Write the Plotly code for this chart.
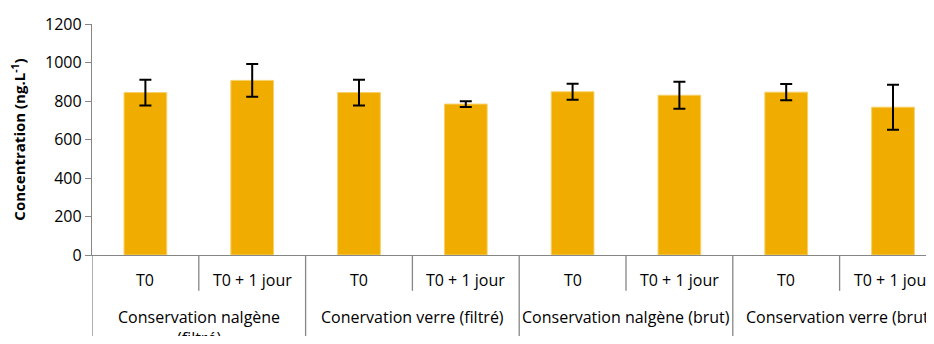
import plotly.graph_objects as go

groups = ["Conservation nalgène<br>(filtré)", "Conervation verre (filtré)",
          "Conservation nalgène (brut)", "Conservation verre (brut)"]
sub_labels = ["T0", "T0 + 1 jour"]
values = [844, 907, 844, 784, 848, 830, 846, 768]
errors = [67, 85, 67, 15, 42, 70, 42, 117]
y_ticks = [0, 200, 400, 600, 800, 1000, 1200]

n_sub = len(sub_labels)
n = len(values)
x = list(range(n))
ticktext = [sub_labels[i % n_sub] for i in x]

AX = "#868686"
FONT = "Open Sans"

fig = go.Figure()
fig.add_trace(go.Bar(
    x=x, y=values, width=0.4,
    marker=dict(color="#F0AD00", line=dict(color="#F7D06A", width=1)),
    error_y=dict(type="data", array=errors, visible=True, color="black",
                 thickness=2, width=6),
))

shapes = []
# boundaries between categories
for b in range(n + 1):
    xb = b - 0.5
    full = (b % n_sub == 0)
    shapes.append(dict(type="line", xref="x", yref="paper", x0=xb, x1=xb,
                       y0=0, y1=(-0.42 if full else -0.155),
                       line=dict(color=AX, width=1.3)))

annotations = []
# first level labels (sub-categories)
for i, lab in zip(x, ticktext):
    annotations.append(dict(x=i, xref="x", y=-0.107, yref="paper",
                            text=lab, showarrow=False, yanchor="middle",
                            font=dict(family=FONT, size=16, color="black")))
# second level labels (groups)
for g, name in enumerate(groups):
    cx = g * n_sub + (n_sub - 1) / 2
    annotations.append(dict(x=cx, xref="x", y=-0.21, yref="paper",
                            text=name, showarrow=False, yanchor="top",
                            font=dict(family=FONT, size=16, color="black")))

fig.update_layout(
    width=918, height=328,
    margin=dict(l=84, r=0, t=16, b=81),
    plot_bgcolor="white", paper_bgcolor="white",
    showlegend=False,
    bargap=0.6,
    shapes=shapes,
    annotations=annotations,
    xaxis=dict(range=[-0.5, 7.309], tickvals=x, showticklabels=False,
               ticks="", showgrid=False, zeroline=False, automargin=False,
               showline=True, linecolor=AX, linewidth=1.3),
    yaxis=dict(range=[0, 1200], tickvals=y_ticks, showgrid=False,
               zeroline=False, showline=True, linecolor=AX, linewidth=1.3,
               automargin=False,
               ticks="outside", ticklen=6, tickcolor=AX, tickwidth=1.3,
               tickfont=dict(family=FONT, size=16, color="black"),
               title=dict(text="<b>Concentration (ng.L<sup>-1</sup>)</b>",
                          font=dict(family=FONT, size=15, color="black"),
                          standoff=15)),
)

fig.write_html("out.html")
